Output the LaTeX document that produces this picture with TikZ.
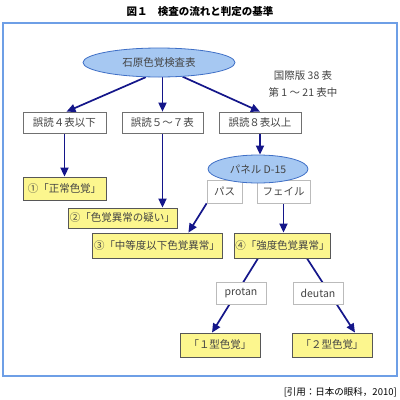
\documentclass[tikz,border=0pt]{standalone}
\usepackage{fontspec}
\setmainfont{Noto Sans CJK JP}
\usetikzlibrary{shapes.geometric, arrows.meta, backgrounds}
\definecolor{navy}{HTML}{14168A}
\definecolor{framecol}{HTML}{6E9FE6}
\definecolor{ovalfill}{HTML}{A6C8F2}
\definecolor{ovaldraw}{HTML}{3F6FC6}
\definecolor{txtgray}{HTML}{444444}
\definecolor{boxgray}{HTML}{707070}
\definecolor{taggray}{HTML}{BBBBBB}
\definecolor{resultfill}{HTML}{FCF68E}
\tikzset{
  every node/.style={font=\fontsize{10.5}{12}\selectfont, text=txtgray, inner sep=1pt},
  testoval/.style={ellipse, draw=ovaldraw, fill=ovalfill, line width=0.8pt},
  countbox/.style={draw=boxgray, fill=white, line width=0.7pt, minimum height=21pt},
  tagbox/.style={draw=taggray, fill=white, line width=0.7pt, minimum height=23pt},
  resultbox/.style={draw=txtgray!90, fill=resultfill, line width=0.8pt},
  flow/.style={draw=navy, line width=1.7pt, -{Triangle[length=9pt,width=8pt]}},
}

\begin{document}
\begin{tikzpicture}[x=1pt, y=-1pt]
  \useasboundingbox (0,0) rectangle (400,400);
  \begin{scope}[on background layer]
    \fill[white] (0,0) rectangle (400,400);
  \end{scope}

  \node[font=\bfseries\fontsize{10.5}{12}\selectfont, text=black] (title) at (200,12)
    {図１　検査の流れと判定の基準};
  \draw[framecol, line width=1.2pt] (3,23) rectangle (397,376);

  \node[testoval, minimum width=152pt, minimum height=29pt] (ishihara) at (159,62.5)
    {石原色覚検査表};
  \node[align=center, font=\fontsize{10.5}{17}\selectfont] (note) at (303,83.5)
    {国際版 38 表\\第 1 ～ 21 表中};

  \node[countbox, minimum width=83pt] (few)  at (64.5,122.5) {誤読４表以下};
  \node[countbox, minimum width=81pt] (some) at (162.5,122.5) {誤読５～７表};
  \node[countbox, minimum width=82pt] (many) at (260,122.5) {誤読８表以上};

  \node[resultbox, minimum width=83pt, minimum height=23pt] (normal)  at (64.5,188.5)
    {①「正常色覚」};
  \node[resultbox, minimum width=109pt, minimum height=20pt] (suspect) at (122.5,218)
    {②「色覚異常の疑い」};

  \node[tagbox, minimum width=35pt] (pass) at (224.5,191.5) {パス};
  \node[tagbox, minimum width=53pt] (fail) at (283.5,191.5) {フェイル};
  \node[testoval, minimum width=100pt, minimum height=28pt] (panel) at (258,169)
    {パネル D-15};

  \node[resultbox, minimum width=130pt, minimum height=25pt] (mild)   at (157,245.5)
    {③「中等度以下色覚異常」};
  \node[resultbox, minimum width=95pt, minimum height=25pt]  (severe) at (282.5,245.5)
    {④「強度色覚異常」};

  \node[tagbox, minimum width=50pt, minimum height=22pt] (protan) at (241,293) {protan};
  \node[tagbox, minimum width=50pt, minimum height=22pt] (deutan) at (318,293) {deutan};

  \node[resultbox, minimum width=80pt, minimum height=24pt] (typeone) at (220,345)
    {「１型色覚」};
  \node[resultbox, minimum width=80pt, minimum height=24pt] (typetwo) at (332,345)
    {「２型色覚」};

  \node[anchor=east, font=\fontsize{9.5}{11}\selectfont, text=black] (cite) at (398,392)
    {[引用：日本の眼科，2010]};

  % connectors
  \begin{scope}[on background layer]
    \draw[flow] (ishihara.228) -- ([xshift=2pt]few.north);
    \draw[flow] (some.north |- ishihara.south) -- (some.north);
    \draw[flow] (ishihara.329) -- (many.north);
    \draw[flow] (few) -- (normal);
    \draw[flow] (some.south) -- (some.south |- suspect.north);
    \draw[flow] (many.south) -- (many.south |- panel.north);
    \draw[flow] (pass.south west) -- ([xshift=-34pt]mild.north east);
    \draw[flow] (fail.south) -- (fail.south |- severe.north);
    \draw[flow] ([xshift=-24.5pt]severe.south) -- ([xshift=-8pt]typeone.north);
    \draw[flow] ([xshift=24.5pt]severe.south) -- ([xshift=23pt]typetwo.north);
  \end{scope}
\end{tikzpicture}
\end{document}
